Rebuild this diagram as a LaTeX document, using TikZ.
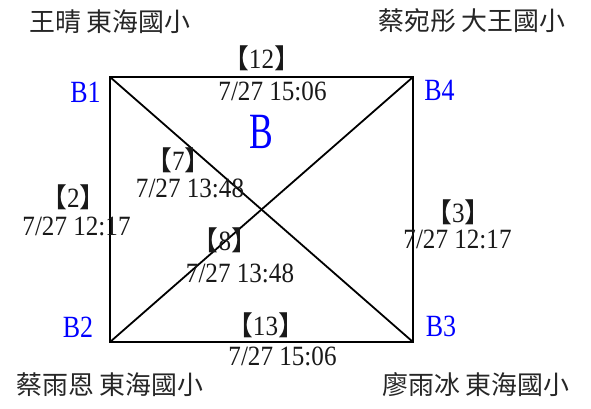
\documentclass[tikz,border=0pt]{standalone}
\usepackage{fontspec}
\setmainfont{Liberation Serif}
\newfontfamily\cjk{Noto Sans CJK TC}
\newfontfamily\brk{Noto Sans CJK SC}
\newfontfamily\numf[FakeStretch=0.9]{Liberation Serif}
\newfontfamily\labf[FakeStretch=0.84]{Liberation Serif}
\newfontfamily\bigf[FakeStretch=0.7]{Liberation Serif}
\newcommand\tg[1]{{\brk\fontsize{27}{30}\selectfont 【}#1{\brk\fontsize{27}{30}\selectfont 】}}
\begin{document}
\begin{tikzpicture}[x=1bp,y=-1bp,
  edge/.style={line width=1.8bp, black},
  person/.style={font=\cjk\fontsize{26}{30}\selectfont, text=black!85, inner sep=0, anchor=center},
  corner/.style={font=\labf\fontsize{31}{34}\selectfont, text=blue, inner sep=0, anchor=base},
  tag/.style={font=\numf\fontsize{28}{30}\selectfont, text=black!90, inner sep=0, anchor=base},
  when/.style={font=\numf\fontsize{28}{30}\selectfont, text=black!90, inner sep=0, anchor=base}]
\useasboundingbox (0,0) rectangle (591,408);
\fill[white] (0,0) rectangle (591,408);
% corners
\coordinate (b1) at (110,77);
\coordinate (b4) at (413,77);
\coordinate (b3) at (413,342);
\coordinate (b2) at (110,342);
\draw[edge] (b1) -- (b4) -- (b3) -- (b2) -- cycle;
\draw[edge] (b1) -- (b3);
\draw[edge] (b2) -- (b4);
% corner labels
\node[corner] (lb1) at (85.5,102) {B1};
\node[corner] (lb4) at (439.5,100) {B4};
\node[corner] (lb2) at (78,337) {B2};
\node[corner] (lb3) at (441,336) {B3};
\node[font=\bigf\fontsize{51}{55}\selectfont, text=blue, inner sep=0, anchor=base] (bb) at (261,148) {B};
% persons
\node[person] (p1) at (110,21.5) {王晴 東海國小};
\node[person] (p4) at (472,21) {蔡宛彤 大王國小};
\node[person] (p2) at (110,385) {蔡雨恩 東海國小};
\node[person] (p3) at (476,385) {廖雨冰 東海國小};
% edge labels
\node[tag] (t12) at (261.5,68) {\tg{12}};
\node[when] (w12) at (272.5,100) {7/27 15:06};
\node[tag] (t13) at (265.5,335) {\tg{13}};
\node[when] (w13) at (282.5,365) {7/27 15:06};
\node[tag] (t7) at (178.5,170) {\tg{7}};
\node[when] (w7) at (190,197) {7/27 13:48};
\node[tag] (t2) at (73.5,207) {\tg{2}};
\node[when] (w2) at (76.5,235) {7/27 12:17};
\node[tag] (t8) at (225,250) {\tg{8}};
\node[when] (w8) at (240,282) {7/27 13:48};
\node[tag] (t3) at (458.5,222) {\tg{3}};
\node[when] (w3) at (457.5,248) {7/27 12:17};
\end{tikzpicture}
\end{document}
